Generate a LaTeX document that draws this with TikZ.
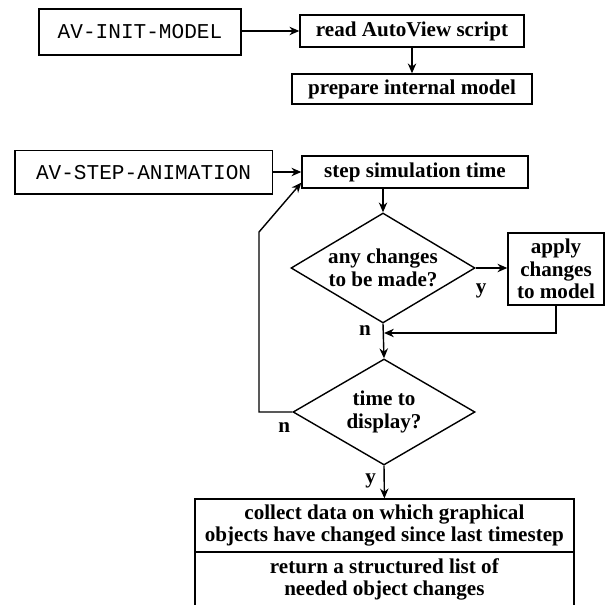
\documentclass[tikz,border=0pt]{standalone}
\usepackage{fontspec}
\setmainfont{Liberation Serif}
\setmonofont{Liberation Mono}
\usetikzlibrary{arrows.meta,positioning,shapes.geometric}

\begin{document}
\begin{tikzpicture}[
    proc/.style={draw,line width=1pt,align=center,inner sep=0pt,
      font=\bfseries\fontsize{15}{16}\selectfont},
    call/.style={proc,font=\ttfamily\fontsize{15}{17}\selectfont},
    test/.style={diamond,draw,line width=1pt,align=center,inner sep=0pt,
      shape aspect=1.67,font=\bfseries\fontsize{15}{16}\selectfont},
    flow/.style={line width=1pt,-{Stealth[length=7pt,width=6pt]}},
    yn/.style={font=\bfseries\fontsize{15}{16}\selectfont,inner sep=1pt}
  ]
  \useasboundingbox (0,0) rectangle (15.225,15.1);

  % model set-up
  \node[call,minimum width=5.05cm,minimum height=1.15cm] (init) at (3.5,14.3) {AV-INIT-MODEL};
  \node[proc,minimum width=5.6cm,minimum height=0.8cm] (read) at (10.3,14.325) {read AutoView script};
  \node[proc,minimum width=6cm,minimum height=0.75cm] (prep) at (10.3,12.875) {prepare internal model};
  \draw[flow] (init.east |- read) -- (read.west);
  \draw[flow] (read) -- (prep);

  % one animation step
  \node[call,minimum width=6.43cm,minimum height=1.08cm] (avstep) at (3.59,10.79) {AV-STEP-ANIMATION};
  \node[proc,minimum width=5.65cm,minimum height=0.8cm] (simtime) at (10.375,10.8) {step simulation time};
  \node[test,minimum width=4.6cm,minimum height=2.75cm] (anychg) at (9.575,8.4) {any changes\\to be made?};
  \node[proc,minimum width=2.4cm,minimum height=1.8cm] (apply) at (13.9,8.375) {apply\\changes\\to model};
  \node[test,minimum width=4.55cm,minimum height=2.65cm] (display) at (9.6,4.8) {time to\\display?};
  \node[proc,minimum width=9.475cm,minimum height=1.325cm] (collect) at (9.61,1.96)
    {collect data on which graphical\\objects have changed since last timestep};
  \node[proc,minimum width=9.475cm,minimum height=1.375cm] (retlist) at (9.61,0.6125)
    {return a structured list of\\needed object changes};
  \coordinate (join) at (9.6,6.775);
  \coordinate (bend) at (6.475,9.3);

  \draw[flow] (avstep.east |- simtime) -- (simtime.west);
  \draw[flow] (anychg.north |- simtime.south) -- (anychg.north);
  \draw[flow] (anychg.east) -- node[pos=0,yn,anchor=north west,yshift=-0.35cm,xshift=-0.05cm]{y} (apply.west |- anychg.east);
  \draw[flow] (apply.south) |- (join);
  \draw[flow] (anychg.south) -- node[pos=0,yn,anchor=north east,xshift=-0.25cm]{n} (display.north);
  \draw[flow] (display.west) -- node[pos=0,yn,anchor=north east,yshift=-0.2cm]{n} (display.west -| bend)
    -- (bend) -- ([yshift=0.15cm]simtime.south west);
  \draw[flow] (display.south) -- node[pos=0,yn,anchor=north east,xshift=-0.15cm,yshift=-0.15cm]{y} (collect.north);
\end{tikzpicture}
\end{document}
